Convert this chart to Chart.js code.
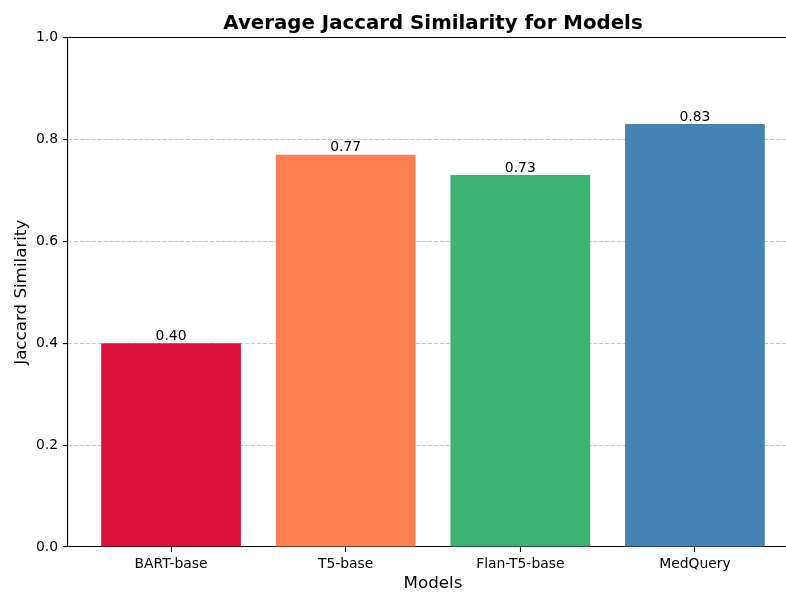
<!DOCTYPE html>
<html>
<head>
<meta charset="utf-8">
<script src="https://cdn.jsdelivr.net/npm/chart.js@4/dist/chart.umd.min.js"></script>
<style>
  html, body { margin: 0; padding: 0; background: #fff; overflow: hidden; }
  #wrap { width: 786px; height: 592px; overflow: hidden; position: relative; }
  #c { position: absolute; left: 0; top: 0; }
</style>
</head>
<body>
<div id="wrap"><canvas id="c" width="800" height="600"></canvas></div>
<script>
// Models and their average Jaccard similarity
const models = ['BART-base', 'T5-base', 'Flan-T5-base', 'MedQuery'];
const scores = [0.40, 0.77, 0.73, 0.83];
const barColors = ['#DC143C', '#FF7F50', '#3CB371', '#4682B4'];
const yTicks = [0.0, 0.2, 0.4, 0.6, 0.8, 1.0];

const FONT = "'DejaVu Sans', sans-serif";

// Title, top/right frame lines and value labels above each bar
const decorations = {
  id: 'decorations',
  afterDatasetsDraw(chart) {
    const ctx = chart.ctx;
    const meta = chart.getDatasetMeta(0);
    ctx.save();
    ctx.fillStyle = '#000';
    ctx.font = '13.9px ' + FONT;
    ctx.textAlign = 'center';
    ctx.textBaseline = 'alphabetic';
    meta.data.forEach((bar, i) => {
      ctx.fillText(scores[i].toFixed(2), bar.x, bar.y - 3.3);
    });
    ctx.restore();
  },
  afterDraw(chart) {
    const ctx = chart.ctx;
    const a = chart.chartArea;
    ctx.save();
    ctx.strokeStyle = '#000';
    ctx.lineWidth = 1.1;
    ctx.beginPath();
    ctx.moveTo(a.left, a.top);
    ctx.lineTo(a.right, a.top);
    ctx.lineTo(a.right, a.bottom);
    ctx.stroke();
    ctx.fillStyle = '#000';
    ctx.font = 'bold 19.8px ' + FONT;
    ctx.textAlign = 'center';
    ctx.textBaseline = 'alphabetic';
    ctx.fillText('Average Jaccard Similarity for Models', (a.left + a.right) / 2, 29);
    ctx.restore();
  }
};

new Chart(document.getElementById('c'), {
  type: 'bar',
  data: {
    datasets: [{
      data: scores.map((v, i) => ({ x: i, y: v })),
      backgroundColor: barColors,
      borderWidth: 0,
      categoryPercentage: 1.0,
      barPercentage: 0.8
    }]
  },
  options: {
    responsive: false,
    animation: false,
    devicePixelRatio: 1,
    layout: { padding: { top: 37.5, right: 2, bottom: 0, left: 0 } },
    plugins: {
      legend: { display: false },
      title: { display: false },
      tooltip: { enabled: false }
    },
    scales: {
      x: {
        type: 'linear',
        min: -0.59,
        max: 3.59,
        offset: false,
        z: 2,
        afterFit(scale) { scale.height = 53; },
        afterBuildTicks(scale) { scale.ticks = models.map((_, i) => ({ value: i })); },
        grid: {
          display: true,
          offset: false,
          drawOnChartArea: false,
          drawTicks: true,
          tickLength: 5,
          tickColor: '#000',
          tickWidth: 1.1
        },
        border: { display: true, color: '#000', width: 1.1 },
        ticks: {
          autoSkip: false,
          maxRotation: 0,
          padding: 4,
          color: '#000',
          font: { family: FONT, size: 13.9 },
          callback: (v) => models[v]
        },
        title: {
          display: true,
          text: 'Models',
          color: '#000',
          font: { family: FONT, size: 16.7 },
          padding: { top: 0, bottom: 6 }
        }
      },
      y: {
        min: 0,
        max: 1,
        z: 1,
        afterFit(scale) { scale.width = 68; },
        afterBuildTicks(scale) { scale.ticks = yTicks.map(v => ({ value: v })); },
        grid: {
          display: true,
          drawOnChartArea: true,
          color: 'rgba(176,176,176,0.7)',
          lineWidth: 1.1,
          drawTicks: true,
          tickLength: 5,
          tickColor: '#000',
          tickWidth: 1.1,
          tickBorderDash: []
        },
        border: { display: true, color: '#000', width: 1.1, dash: [4.1, 1.8] },
        ticks: {
          padding: 5,
          color: '#000',
          font: { family: FONT, size: 13.9 },
          callback: (v) => v.toFixed(1)
        },
        title: {
          display: true,
          text: 'Jaccard Similarity',
          color: '#000',
          font: { family: FONT, size: 16.7 },
          padding: { top: 12, bottom: 0 }
        }
      }
    }
  },
  plugins: [decorations]
});
</script>
</body>
</html>
